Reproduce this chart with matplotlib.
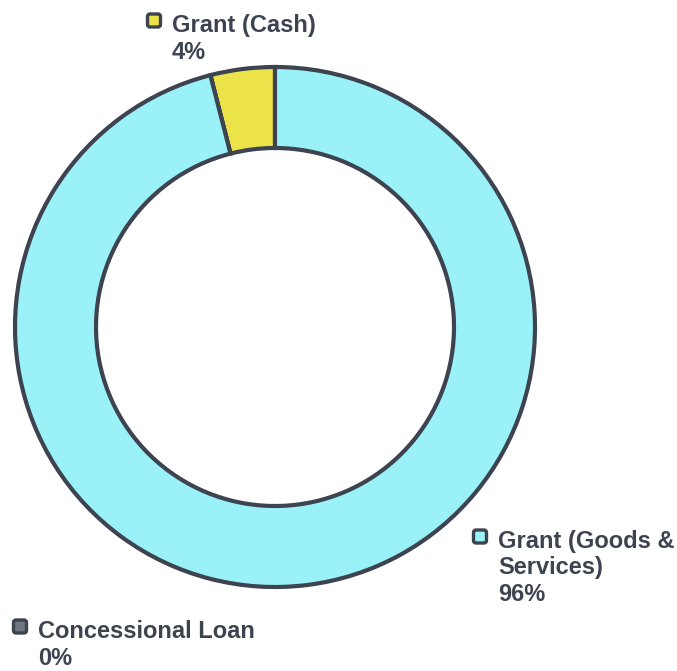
import matplotlib.pyplot as plt
from matplotlib.patches import FancyBboxPatch

# Данные
labels = ['Grant (Cash)', 'Concessional Loan', 'Grant (Goods &\nServices)']
shares = [4, 0, 96]
colors = ['#ece24a', '#6f777f', '#9af1f7']
edge = '#3d4450'

# Начало текста подписи и базовая линия первой строки (пиксели от верхнего левого угла)
label_pos = [(172, 32), (38, 638), (498, 548)]

W, H = 677, 671
fig = plt.figure(figsize=(W / 100, H / 100), dpi=100)
ax = fig.add_axes([0, 0, 1, 1])

ax.pie(shares, colors=colors, startangle=90, counterclock=True,
       center=(275, H - 327), radius=260,
       wedgeprops=dict(width=81, edgecolor=edge, linewidth=3))

# pie сам ставит пределы осей, поэтому задаём их после
ax.set_xlim(0, W)
ax.set_ylim(0, H)
ax.set_aspect('equal')
ax.axis('off')

font = dict(fontsize=17, fontweight='bold', color=edge,
            family='Liberation Sans', ha='left', va='baseline')

for lab, val, col, (px, py) in zip(labels, shares, colors, label_pos):
    # маркер: квадрат ~15px со скруглёнными углами
    cx, cy = px - 18, H - py + 11.5
    ax.add_patch(FancyBboxPatch((cx - 6.5, cy - 6.5), 13, 13,
                                boxstyle='round,pad=0,rounding_size=2.5',
                                fc=col, ec=edge, lw=2.4, zorder=5))
    y = py
    for line in lab.split('\n'):
        ax.text(px, H - y, line, **font)
        y += 26
    ax.text(px, H - (y + 1), f'{val}%', **font)

fig.savefig('out.png', dpi=100)
